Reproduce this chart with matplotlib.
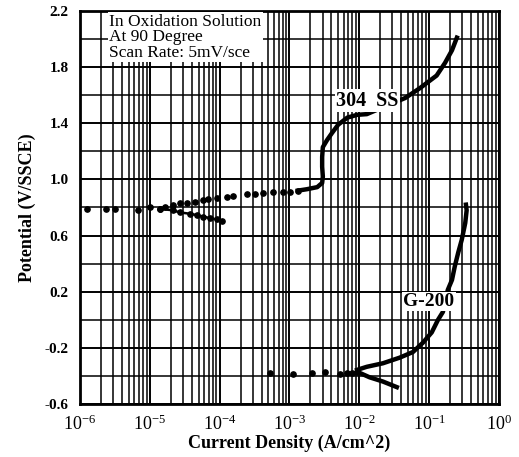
import matplotlib.pyplot as plt
import numpy as np
from matplotlib.ticker import LogLocator, FixedLocator, NullFormatter

plt.rcParams['font.family'] = ['Liberation Serif', 'DejaVu Serif']
plt.rcParams['mathtext.fontset'] = 'custom'
plt.rcParams['mathtext.rm'] = 'Liberation Serif'
plt.rcParams['mathtext.it'] = 'Liberation Serif:italic'
plt.rcParams['mathtext.bf'] = 'Liberation Serif:bold'

# 304 SS, anodic branch (log10 current, potential)
ss_dot_logi = [-5.90, -5.63, -5.50, -5.17, -5.00, -4.85, -4.78, -4.67, -4.57, -4.47,
               -4.35, -4.24, -4.17, -4.04, -3.89, -3.81, -3.61, -3.49, -3.38, -3.23,
               -3.09, -2.99, -2.88]
ss_dot_e = [0.79, 0.79, 0.79, 0.78, 0.80, 0.79, 0.80, 0.82, 0.83, 0.83,
            0.84, 0.855, 0.86, 0.87, 0.875, 0.88, 0.895, 0.895, 0.90, 0.91,
            0.91, 0.91, 0.92]
ss_line_logi = [-2.88, -2.75, -2.60, -2.53, -2.52, -2.53, -2.53, -2.52, -2.46, -2.39,
                -2.30, -2.17, -2.03, -1.89, -1.63, -1.34, -1.13, -0.89, -0.77, -0.67, -0.60]
ss_line_e = [0.92, 0.93, 0.945, 0.975, 1.02, 1.09, 1.16, 1.23, 1.28, 1.33,
             1.39, 1.44, 1.46, 1.465, 1.52, 1.58, 1.65, 1.74, 1.83, 1.92, 2.01]
# 304 SS, cathodic branch
ss_cat_logi = [-4.85, -4.67, -4.57, -4.42, -4.32, -4.24, -4.14, -4.04, -3.97]
ss_cat_e = [0.79, 0.78, 0.765, 0.755, 0.745, 0.735, 0.725, 0.715, 0.705]

# G-200
g_dot_logi = [-3.28, -2.95, -2.68, -2.49, -2.28, -2.17, -2.10, -2.03]
g_dot_e = [-0.378, -0.385, -0.38, -0.375, -0.385, -0.38, -0.378, -0.37]
g_line_logi = [-2.03, -1.89, -1.66, -1.42, -1.23, -1.09, -0.96, -0.87, -0.80, -0.73,
               -0.67, -0.63, -0.58, -0.53, -0.48, -0.46, -0.47]
g_line_e = [-0.357, -0.335, -0.31, -0.27, -0.23, -0.165, -0.09, 0.0, 0.056, 0.213,
            0.284, 0.38, 0.48, 0.57, 0.69, 0.78, 0.82]
g_cat_logi = [-2.03, -1.85, -1.66, -1.46]
g_cat_e = [-0.37, -0.41, -0.44, -0.48]

yticks = [-0.6, -0.2, 0.2, 0.6, 1.0, 1.4, 1.8, 2.2]
xticks = [1e-6, 1e-5, 1e-4, 1e-3, 1e-2, 1e-1, 1e0]

fig = plt.figure(figsize=(5.19, 4.57), dpi=100)
ax = fig.add_axes([0.154, 0.116, 0.807, 0.860])
ax.set_xscale('log')
ax.set_xlim(1e-6, 1)
ax.set_ylim(-0.6, 2.2)

ax.xaxis.set_major_locator(FixedLocator(xticks))
ax.xaxis.set_minor_locator(LogLocator(base=10, subs=np.arange(2, 10), numticks=20))
ax.xaxis.set_minor_formatter(NullFormatter())
ax.set_xticklabels(['10$^{%d}$' % int(np.log10(t)) for t in xticks])
ax.yaxis.set_major_locator(FixedLocator(yticks))
ax.yaxis.set_minor_locator(FixedLocator(np.arange(-0.4, 2.2, 0.4)))
ax.set_yticklabels(['%.1f' % t for t in yticks], fontweight='bold')

ax.grid(True, which='major', color='black', lw=1.4)
ax.grid(True, which='minor', color='black', lw=1.1)
ax.tick_params(which='both', length=0)
ax.tick_params(axis='x', labelsize=13, pad=8)
ax.tick_params(axis='y', labelsize=11, pad=8)
for s in ax.spines.values():
    s.set_linewidth(2)
ax.set_axisbelow(True)

def pow10(v):
    return [10 ** a for a in v]

ax.plot(pow10(ss_dot_logi), ss_dot_e, 'o', color='black', ms=3.8)
ax.plot(pow10(ss_line_logi), ss_line_e, '-', color='black', lw=3.2)
ax.plot(pow10(ss_cat_logi), ss_cat_e, 'o-', color='black', ms=3.8, lw=1.8)
ax.plot(pow10(g_dot_logi), g_dot_e, 'o', color='black', ms=3.8)
ax.plot(pow10(g_line_logi), g_line_e, '-', color='black', lw=3.2)
ax.plot(pow10(g_cat_logi), g_cat_e, '-', color='black', lw=3.2)

box = dict(facecolor='white', edgecolor='none', pad=1)
ax.text(10 ** -1.88, 1.56, '304  SS', fontsize=14.5, fontweight='bold', ha='center',
        va='center', bbox=box)
ax.text(10 ** -1.0, 0.13, 'G-200', fontsize=14, fontweight='bold', ha='center',
        va='center', bbox=box)
ax.text(10 ** -5.58, 2.18, 'In Oxidation Solution\nAt 90 Degree\nScan Rate: 5mV/sce',
        fontsize=12.5, ha='left', va='top', linespacing=0.95,
        bbox=dict(facecolor='white', edgecolor='none', pad=1))

ax.set_xlabel('Current Density (A/cm^2)', fontsize=13, fontweight='bold', labelpad=0)
ax.set_ylabel('Potential (V/SSCE)', fontsize=13, fontweight='bold', labelpad=6)

fig.savefig('out.png', dpi=100)
